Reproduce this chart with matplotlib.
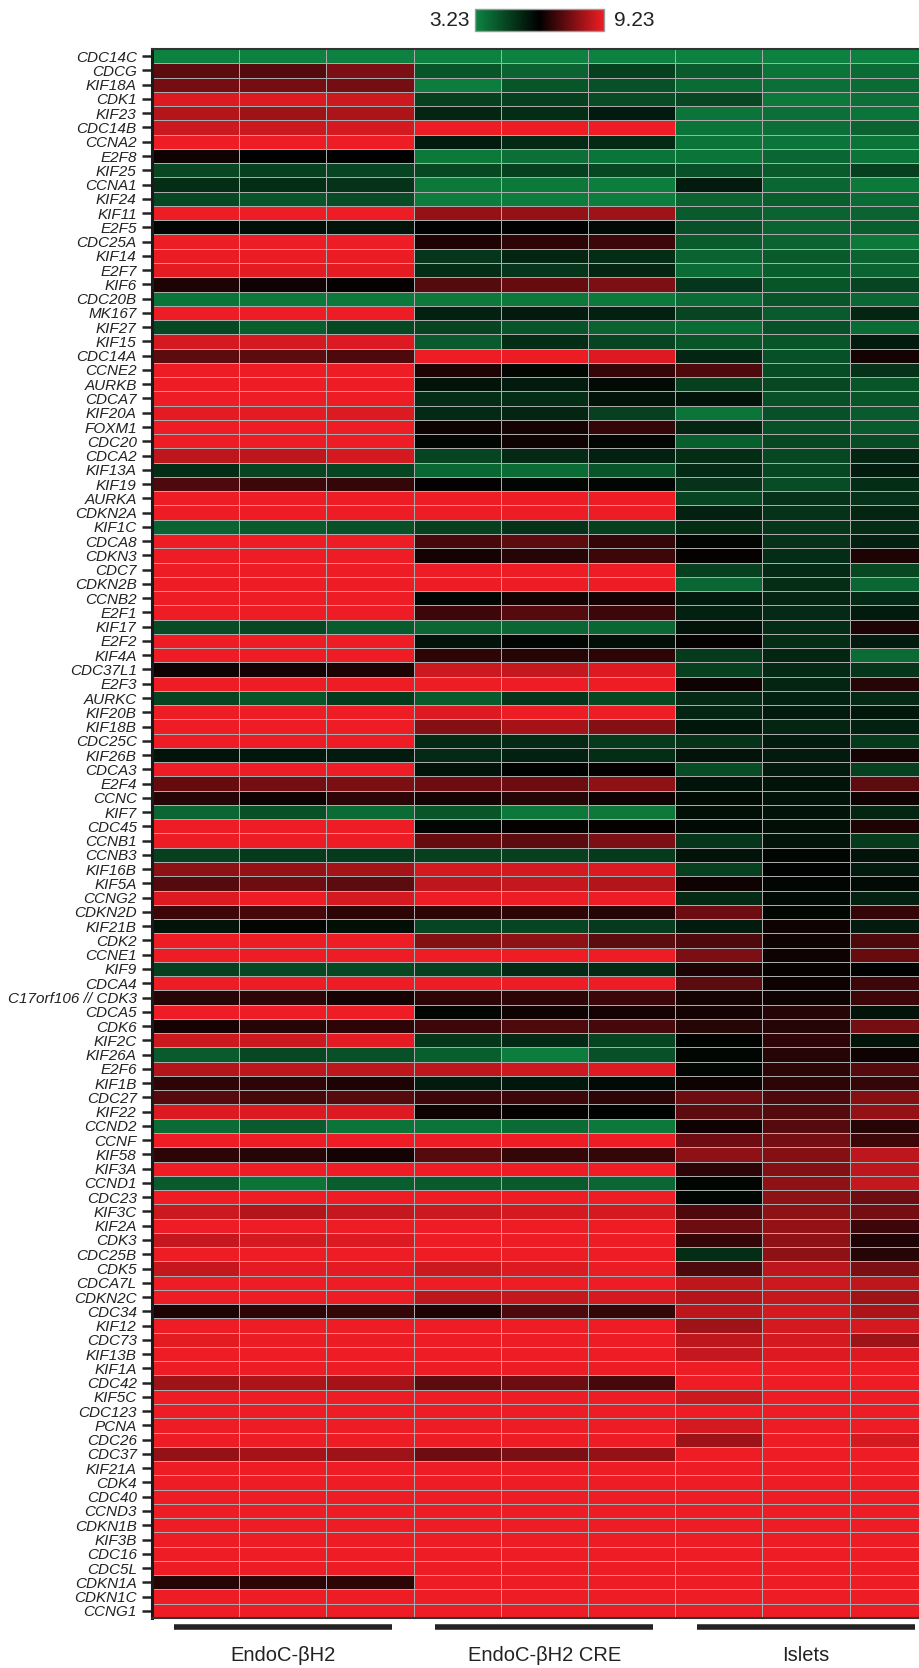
import numpy as np
import matplotlib
matplotlib.use("Agg")
from matplotlib import pyplot as plt
from matplotlib.colors import LinearSegmentedColormap, Normalize
from matplotlib.cm import ScalarMappable
from matplotlib.transforms import blended_transform_factory

plt.rcParams["font.family"] = ["Liberation Sans", "DejaVu Sans"]

genes = [
    "CDC14C", "CDCG", "KIF18A", "CDK1", "KIF23", "CDC14B", "CCNA2", "E2F8", "KIF25", "CCNA1",
    "KIF24", "KIF11", "E2F5", "CDC25A", "KIF14", "E2F7", "KIF6", "CDC20B", "MK167", "KIF27",
    "KIF15", "CDC14A", "CCNE2", "AURKB", "CDCA7", "KIF20A", "FOXM1", "CDC20", "CDCA2", "KIF13A",
    "KIF19", "AURKA", "CDKN2A", "KIF1C", "CDCA8", "CDKN3", "CDC7", "CDKN2B", "CCNB2", "E2F1",
    "KIF17", "E2F2", "KIF4A", "CDC37L1", "E2F3", "AURKC", "KIF20B", "KIF18B", "CDC25C", "KIF26B",
    "CDCA3", "E2F4", "CCNC", "KIF7", "CDC45", "CCNB1", "CCNB3", "KIF16B", "KIF5A", "CCNG2",
    "CDKN2D", "KIF21B", "CDK2", "CCNE1", "KIF9", "CDCA4", "C17orf106 // CDK3", "CDCA5", "CDK6", "KIF2C",
    "KIF26A", "E2F6", "KIF1B", "CDC27", "KIF22", "CCND2", "CCNF", "KIF58", "KIF3A", "CCND1",
    "CDC23", "KIF3C", "KIF2A", "CDK3", "CDC25B", "CDK5", "CDCA7L", "CDKN2C", "CDC34", "KIF12",
    "CDC73", "KIF13B", "KIF1A", "CDC42", "KIF5C", "CDC123", "PCNA", "CDC26", "CDC37", "KIF21A",
    "CDK4", "CDC40", "CCND3", "CDKN1B", "KIF3B", "CDC16", "CDC5L", "CDKN1A", "CDKN1C", "CCNG1",
]

# three replicates per sample group, log2 expression
endoc_bh2 = [
    [3.3, 3.3, 3.3], [7.4, 7.3, 7.8], [7.7, 7.7, 7.7], [9.0, 9.0, 8.8], [8.5, 8.2, 8.4],
    [8.8, 8.8, 8.9], [9.3, 9.3, 9.3], [6.4, 6.2, 6.2], [4.6, 4.8, 4.7], [5.2, 5.2, 5.1],
    [4.6, 4.3, 4.5], [9.3, 9.3, 9.3], [6.1, 5.9, 5.8], [9.3, 9.3, 9.3], [9.2, 9.2, 9.2],
    [9.1, 9.1, 9.1], [6.6, 6.4, 6.3], [3.6, 3.5, 3.5], [9.3, 9.3, 9.3], [4.6, 4.1, 4.6],
    [8.9, 8.9, 9.0], [7.4, 7.4, 7.2], [9.3, 9.3, 9.3], [9.3, 9.3, 9.3], [9.3, 9.3, 9.3],
    [9.1, 9.1, 9.0], [9.3, 9.3, 9.3], [9.3, 9.3, 9.3], [8.6, 8.6, 8.9], [5.2, 4.7, 4.7],
    [7.2, 7.0, 6.9], [9.3, 9.3, 9.3], [9.3, 9.3, 9.3], [4.0, 4.2, 4.4], [9.3, 9.3, 9.3],
    [9.3, 9.3, 9.3], [9.3, 9.3, 9.3], [9.3, 9.3, 9.3], [9.3, 9.3, 9.3], [9.3, 9.3, 9.3],
    [4.5, 4.6, 4.2], [9.3, 9.3, 9.3], [9.3, 9.3, 9.3], [6.4, 6.5, 6.6], [9.3, 9.3, 9.3],
    [4.7, 4.3, 4.9], [9.3, 9.3, 9.3], [9.3, 9.3, 9.3], [9.3, 9.3, 9.3], [5.8, 5.7, 5.6],
    [9.3, 9.3, 9.3], [7.5, 7.7, 7.8], [6.7, 6.4, 6.8], [3.9, 4.4, 3.8], [9.3, 9.3, 9.3],
    [9.3, 9.3, 9.3], [4.8, 4.9, 4.9], [8.0, 8.1, 8.3], [7.3, 7.6, 7.4], [9.0, 9.3, 8.9],
    [7.0, 7.1, 6.8], [5.8, 6.1, 5.9], [9.3, 9.3, 9.3], [9.3, 9.3, 9.3], [4.8, 4.6, 4.6],
    [9.3, 9.3, 9.3], [6.7, 6.8, 6.5], [9.3, 9.3, 9.3], [6.5, 6.7, 6.8], [8.8, 8.8, 9.1],
    [4.2, 4.6, 4.4], [8.5, 8.6, 8.6], [6.8, 6.8, 6.6], [7.3, 7.1, 7.3], [9.0, 9.0, 9.0],
    [3.8, 4.2, 3.6], [9.3, 9.3, 9.3], [6.8, 6.7, 6.5], [9.3, 9.3, 9.3], [4.2, 3.6, 4.1],
    [9.3, 9.3, 9.3], [8.8, 8.5, 8.7], [9.3, 9.3, 9.3], [8.7, 8.9, 9.0], [9.3, 9.3, 9.3],
    [8.7, 9.1, 9.1], [9.3, 9.3, 9.3], [9.3, 9.3, 9.3], [6.6, 6.8, 6.9], [9.3, 9.3, 9.3],
    [9.1, 9.2, 9.2], [9.3, 9.3, 9.3], [9.3, 9.3, 9.3], [8.2, 8.4, 8.3], [9.3, 9.3, 9.3],
    [9.3, 9.3, 9.3], [9.3, 9.3, 9.3], [9.3, 9.3, 9.3], [8.1, 8.3, 8.2], [9.3, 9.3, 9.3],
    [9.3, 9.3, 9.3], [9.3, 9.3, 9.3], [9.3, 9.3, 9.3], [9.3, 9.3, 9.3], [9.3, 9.3, 9.3],
    [9.3, 9.3, 9.3], [9.3, 9.3, 9.3], [6.7, 6.8, 6.8], [9.3, 9.3, 9.3], [9.3, 9.3, 9.3],
]

endoc_cre = [
    [3.3, 3.3, 3.3], [4.3, 4.0, 4.8], [3.4, 4.3, 4.4], [4.8, 4.8, 4.5], [5.4, 5.2, 5.6],
    [9.3, 9.3, 9.3], [5.6, 5.3, 5.3], [3.5, 3.7, 3.6], [4.6, 4.8, 4.6], [3.5, 3.5, 3.4],
    [3.4, 3.4, 3.4], [8.1, 8.1, 8.2], [6.2, 6.2, 6.0], [6.6, 6.8, 7.0], [5.0, 5.4, 5.2],
    [5.2, 5.0, 5.4], [7.3, 7.5, 7.8], [3.5, 3.5, 3.5], [5.5, 5.6, 5.5], [4.7, 4.3, 4.0],
    [4.2, 5.2, 4.7], [9.3, 9.2, 9.0], [6.6, 6.1, 6.9], [5.8, 5.6, 6.0], [5.2, 5.2, 5.8],
    [5.3, 5.4, 4.8], [6.4, 6.5, 6.9], [6.1, 6.4, 6.1], [4.7, 5.3, 5.5], [3.9, 3.8, 4.3],
    [6.3, 6.1, 6.1], [9.3, 9.3, 9.3], [9.3, 9.3, 9.3], [4.8, 5.1, 4.8], [7.1, 7.4, 6.9],
    [6.5, 6.7, 7.0], [9.3, 9.3, 9.3], [9.3, 9.3, 9.3], [6.1, 6.5, 6.5], [7.0, 7.3, 7.0],
    [3.9, 3.9, 3.9], [5.8, 6.1, 5.9], [6.8, 6.7, 6.8], [8.8, 8.7, 9.0], [9.3, 9.3, 9.3],
    [4.2, 5.0, 4.6], [9.0, 9.3, 9.3], [7.9, 8.3, 7.9], [5.3, 5.3, 4.9], [5.3, 5.5, 5.2],
    [5.8, 6.2, 6.3], [7.6, 7.6, 8.0], [6.5, 6.7, 6.4], [4.3, 3.5, 3.5], [6.1, 6.3, 6.3],
    [7.5, 7.4, 7.8], [4.8, 4.8, 4.9], [8.9, 8.9, 9.0], [8.6, 8.7, 8.5], [9.3, 9.3, 9.3],
    [6.8, 6.8, 6.7], [4.7, 4.7, 4.9], [7.9, 8.0, 7.4], [9.3, 9.3, 9.3], [4.8, 5.3, 5.3],
    [9.3, 9.3, 9.3], [6.8, 6.8, 7.0], [6.1, 6.4, 6.5], [7.0, 7.2, 7.1], [5.0, 5.3, 4.7],
    [4.1, 3.4, 4.4], [8.6, 8.8, 9.0], [5.6, 5.7, 6.0], [7.0, 7.0, 6.8], [6.4, 6.3, 6.2],
    [3.6, 3.8, 3.5], [9.3, 9.3, 9.3], [7.3, 6.9, 6.9], [9.3, 9.3, 9.3], [4.2, 4.2, 3.9],
    [9.3, 9.3, 9.3], [8.8, 8.9, 8.9], [9.3, 9.3, 9.3], [9.3, 9.3, 9.3], [9.3, 9.3, 9.3],
    [8.8, 9.0, 9.2], [9.3, 9.3, 9.3], [8.6, 8.7, 8.9], [6.6, 7.2, 6.9], [9.3, 9.3, 9.3],
    [9.3, 9.3, 9.3], [9.3, 9.3, 9.3], [9.3, 9.3, 9.3], [7.4, 7.6, 7.1], [9.3, 9.3, 9.3],
    [9.3, 9.3, 9.3], [9.3, 9.3, 9.3], [9.3, 9.3, 9.3], [7.6, 7.8, 8.1], [9.3, 9.3, 9.3],
    [9.3, 9.3, 9.3], [9.3, 9.3, 9.3], [9.3, 9.3, 9.3], [9.3, 9.3, 9.3], [9.3, 9.3, 9.3],
    [9.3, 9.3, 9.3], [9.3, 9.3, 9.3], [9.3, 9.3, 9.3], [9.3, 9.3, 9.3], [9.3, 9.3, 9.3],
]

islets = [
    [3.3, 3.3, 3.3], [4.2, 3.6, 3.8], [3.8, 3.7, 3.8], [4.6, 3.5, 3.7], [3.6, 3.7, 3.6],
    [3.6, 3.7, 4.0], [3.6, 3.6, 3.6], [3.6, 3.9, 3.6], [4.4, 4.2, 4.8], [5.6, 3.9, 3.5],
    [4.0, 4.1, 3.8], [4.2, 4.0, 4.0], [4.4, 4.0, 4.1], [4.2, 4.0, 3.5], [4.0, 4.2, 4.0],
    [3.8, 4.1, 4.0], [5.0, 4.3, 4.7], [3.8, 4.3, 3.9], [4.7, 4.2, 5.4], [3.8, 4.4, 3.8],
    [4.3, 4.3, 5.6], [5.4, 4.4, 6.5], [7.2, 4.5, 5.1], [4.8, 4.6, 4.3], [5.8, 4.4, 4.3],
    [3.6, 4.4, 4.2], [5.4, 4.4, 4.2], [4.1, 4.6, 4.5], [5.2, 4.6, 5.4], [5.3, 4.6, 5.6],
    [5.1, 4.5, 5.2], [4.7, 5.1, 5.1], [5.5, 5.1, 5.4], [5.2, 5.0, 5.2], [6.1, 5.1, 5.5],
    [6.3, 5.2, 6.6], [4.8, 5.3, 4.6], [3.9, 5.2, 3.9], [5.6, 5.4, 5.3], [5.5, 5.3, 5.6],
    [5.8, 5.2, 6.6], [6.3, 5.2, 5.6], [4.9, 5.4, 3.8], [4.8, 5.3, 5.0], [6.4, 5.4, 6.7],
    [5.3, 5.5, 5.3], [5.4, 5.6, 5.7], [5.7, 5.4, 5.5], [5.1, 5.6, 4.9], [5.8, 5.6, 6.5],
    [4.5, 5.6, 4.8], [5.8, 5.8, 7.4], [6.0, 5.8, 6.4], [5.9, 5.8, 5.4], [6.0, 5.9, 6.6],
    [5.0, 5.8, 4.9], [5.8, 6.1, 5.8], [4.8, 6.2, 5.6], [6.4, 6.1, 6.0], [5.3, 6.0, 5.5],
    [7.6, 6.1, 6.9], [5.6, 6.4, 5.6], [7.2, 6.4, 7.2], [7.8, 6.4, 7.5], [6.6, 6.3, 6.2],
    [7.4, 6.4, 7.0], [6.5, 6.4, 7.0], [6.5, 6.7, 5.8], [6.7, 6.7, 7.7], [6.2, 6.8, 5.8],
    [6.1, 6.7, 6.4], [6.1, 6.8, 7.3], [6.4, 6.8, 6.9], [7.6, 7.2, 7.9], [7.4, 7.3, 8.1],
    [6.4, 7.3, 6.7], [7.6, 7.7, 7.0], [8.0, 7.9, 8.6], [6.8, 7.9, 8.6], [6.1, 8.0, 8.7],
    [6.1, 8.0, 7.6], [7.2, 8.0, 7.7], [7.6, 8.1, 7.0], [6.9, 8.0, 6.6], [5.2, 8.0, 6.7],
    [7.2, 8.6, 7.8], [8.6, 8.8, 8.6], [8.5, 8.7, 8.2], [8.6, 8.9, 8.4], [8.2, 8.9, 8.9],
    [8.6, 8.9, 8.2], [8.7, 9.0, 9.0], [9.3, 9.3, 9.3], [9.3, 9.3, 9.3], [8.8, 9.3, 9.3],
    [9.3, 9.3, 9.3], [8.9, 9.3, 9.3], [8.2, 9.3, 8.9], [9.3, 9.3, 9.3], [9.3, 9.3, 9.3],
    [9.3, 9.3, 9.3], [9.3, 9.3, 9.3], [9.3, 9.3, 9.3], [9.3, 9.3, 9.3], [9.3, 9.3, 9.3],
    [9.3, 9.3, 9.3], [9.3, 9.3, 9.3], [9.3, 9.3, 9.3], [9.3, 9.3, 9.3], [9.3, 9.3, 9.3],
]

groups = ["EndoC-\u03b2H2", "EndoC-\u03b2H2 CRE", "Islets"]
vmin, vmax = 3.23, 9.23

data = np.hstack([np.array(endoc_bh2), np.array(endoc_cre), np.array(islets)])
cmap = LinearSegmentedColormap.from_list("gkr", ["#0d8441", "#000000", "#ee1c24"])
norm = Normalize(vmin=vmin, vmax=vmax)

fig = plt.figure(figsize=(9.19, 16.68), dpi=100)

# heatmap runs past the right edge of the figure, like the cropped original
ax = fig.add_axes([0.1654, 0.0300, 0.854, 0.9406])
ax.pcolormesh(data, cmap=cmap, norm=norm, edgecolors="#ababab", linewidth=0.7)
ax.set_xlim(0, data.shape[1])
ax.set_ylim(len(genes), 0)
ax.set_xticks([])
ax.set_yticks(np.arange(len(genes)) + 0.5)
ax.set_yticklabels(genes, fontstyle="italic", fontsize=11, color="#222222")
ax.tick_params(axis="y", length=7, width=1.8, pad=4, color="#222222")
ax.spines["left"].set_linewidth(2.2)
ax.spines["left"].set_color("#1a1a1a")
for side in ["top", "bottom"]:
    ax.spines[side].set_linewidth(1.5)
    ax.spines[side].set_color("#333333")
ax.spines["right"].set_visible(False)

# group bars and names below the heatmap
trans = blended_transform_factory(ax.transData, fig.transFigure)
for i, name in enumerate(groups):
    ax.plot([3 * i + 0.25, 3 * i + 2.75], [0.0243, 0.0243], transform=trans,
            color="#222222", lw=4, clip_on=False, solid_capstyle="butt")
    ax.text(3 * i + 1.5, 0.0072, name, transform=trans, ha="center", va="center",
            fontsize=14.5, color="#222222")

# colour scale at the top
cax = fig.add_axes([0.517, 0.9814, 0.140, 0.0135])
cb = fig.colorbar(ScalarMappable(norm=norm, cmap=cmap), cax=cax, orientation="horizontal")
cb.set_ticks([])
cb.outline.set_edgecolor("#999999")
cb.outline.set_linewidth(1.0)
fig.text(0.511, 0.988, f"{vmin:.2f}", ha="right", va="center", fontsize=15, color="#222222")
fig.text(0.668, 0.988, f"{vmax:.2f}", ha="left", va="center", fontsize=15, color="#222222")

fig.savefig("out.png", dpi=100)
